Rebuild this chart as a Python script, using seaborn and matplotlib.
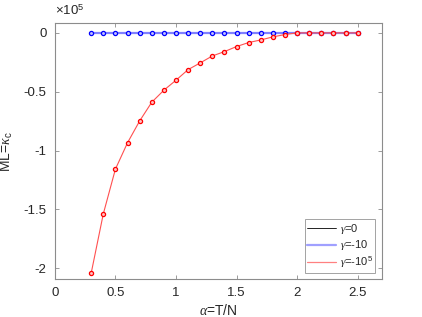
import matplotlib
matplotlib.use('Agg')
import matplotlib.pyplot as plt
import seaborn as sns
import pandas as pd
from matplotlib.lines import Line2D

# data (y in units of 1e5)
alpha = [0.3, 0.4, 0.5, 0.6, 0.7, 0.8, 0.9, 1.0, 1.1, 1.2, 1.3, 1.4,
         1.5, 1.6, 1.7, 1.8, 1.9, 2.0, 2.1, 2.2, 2.3, 2.4, 2.5]
ml_g0 = [0.0] * 23
ml_g10 = [0.0] * 23
ml_g1e5 = [-2.04, -1.537, -1.157, -0.933, -0.748, -0.589, -0.487, -0.402,
           -0.312, -0.255, -0.196, -0.159, -0.116, -0.082, -0.060, -0.034,
           -0.014, 0.0, 0.0, 0.0, 0.0, 0.0, 0.0]
labels = [r'$\gamma$=0', r'$\gamma$=-10', r'$\gamma$=-10$^5$']

sns.set_style("ticks")
plt.rcParams['font.family'] = ['Liberation Sans', 'DejaVu Sans']
plt.rcParams['mathtext.fontset'] = 'custom'
plt.rcParams['mathtext.rm'] = 'Liberation Sans'
plt.rcParams['mathtext.it'] = 'Liberation Serif:italic'

fig = plt.figure(figsize=(4.22, 3.17), dpi=100)
ax = fig.add_axes([0.13, 0.12, 0.775, 0.806])

scale = 1e5
df0 = pd.DataFrame({'x': alpha, 'y': [v * scale for v in ml_g0]})
df1 = pd.DataFrame({'x': alpha, 'y': [v * scale for v in ml_g10]})
df2 = pd.DataFrame({'x': alpha, 'y': [v * scale for v in ml_g1e5]})

sns.lineplot(data=df0, x='x', y='y', ax=ax, color='black', lw=0.6)
sns.lineplot(data=df1, x='x', y='y', ax=ax, color='#8080ff', lw=1.6,
             marker='o', markersize=3, markerfacecolor='#c0c0ff',
             markeredgecolor='blue', markeredgewidth=0.9)
sns.lineplot(data=df2, x='x', y='y', ax=ax, color='#ff5050', lw=0.8,
             marker='o', markersize=3, markerfacecolor='#ffc0c0',
             markeredgecolor='red', markeredgewidth=0.9)

ax.set_xlim(0, 2.7)
ax.set_ylim(-2.09 * scale, 0.08 * scale)
ax.set_xticks([0, 0.5, 1, 1.5, 2, 2.5])
ax.set_xticklabels(['0', '0.5', '1', '1.5', '2', '2.5'])
ax.set_yticks([0, -0.5e5, -1e5, -1.5e5, -2e5])
ax.set_yticklabels(['0', '-0.5', '-1', '-1.5', '-2'])
ax.text(0.0, 1.02, r'$\times$10$^5$', transform=ax.transAxes,
        fontsize=9.5, color='#262626', ha='left', va='bottom')

for s in ax.spines.values():
    s.set_visible(True)
    s.set_color('#8c8c8c')
    s.set_linewidth(0.8)
ax.tick_params(direction='in', length=3, width=0.6, color='#8c8c8c',
               labelsize=9.5, labelcolor='#262626', top=True, right=True,
               labeltop=False, labelright=False, pad=6)

ax.set_xlabel(r'$\alpha$=T/N', fontsize=10, color='#262626', labelpad=3)
ax.set_ylabel(r'ML=$\kappa_{\rm c}$', fontsize=10, color='#262626', labelpad=6)

handles = [Line2D([], [], color='black', lw=0.6),
           Line2D([], [], color='#a0a0ff', lw=1.6),
           Line2D([], [], color='#ff8080', lw=0.9)]
leg = ax.legend(handles, labels, loc='lower right', fontsize=8,
                frameon=True, fancybox=False, handlelength=2.6,
                handletextpad=0.3, borderpad=0.25, labelspacing=0.2,
                bbox_to_anchor=(0.98, 0.025), borderaxespad=0.0)
leg.get_frame().set_edgecolor('#8c8c8c')
leg.get_frame().set_linewidth(0.7)

fig.savefig('out.png', dpi=100)
